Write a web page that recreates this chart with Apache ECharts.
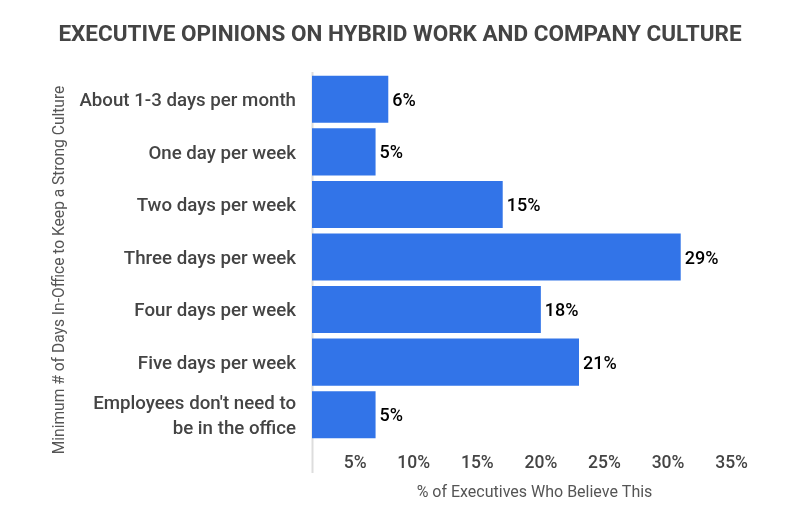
<!DOCTYPE html>
<html>
<head>
<meta charset="utf-8">
<script src="https://cdn.jsdelivr.net/npm/echarts@6/dist/echarts.min.js"></script>
<style>
html,body{margin:0;padding:0;background:#fff;}
#chart{width:800px;height:510px;}
</style>
</head>
<body>
<div id="chart"></div>
<script>
const categories = [
  "About 1-3 days per month",
  "One day per week",
  "Two days per week",
  "Three days per week",
  "Four days per week",
  "Five days per week",
  "Employees don't need to\nbe in the office"
];
const values = [6, 5, 15, 29, 18, 21, 5];
const xTicks = [0, 5, 10, 15, 20, 25, 30, 35];

const chart = echarts.init(document.getElementById('chart'));
const gridLeft = 312, gridTop = 73, gridHeight = 368, gridWidth = 445;
chart.setOption({
  backgroundColor: '#fff',
  animation: false,
  title: {
    text: 'EXECUTIVE OPINIONS ON HYBRID WORK AND COMPANY CULTURE',
    left: 'center',
    top: 19,
    textStyle: {fontFamily: 'Roboto', fontWeight: 'bold', fontSize: 22.5, color: '#444'}
  },
  grid: {left: gridLeft, top: gridTop, width: gridWidth, height: gridHeight},
  xAxis: {
    type: 'value',
    min: xTicks[0],
    max: xTicks[xTicks.length - 1],
    interval: 5,
    name: '% of Executives Who Believe This',
    nameLocation: 'middle',
    nameGap: 44,
    nameTextStyle: {fontFamily: 'Roboto', fontSize: 16, color: '#555'},
    axisLine: {show: false},
    axisTick: {show: false},
    splitLine: {show: false},
    axisLabel: {
      showMinLabel: false,
      formatter: v => v + '%',
      align: 'right',
      padding: [0, 9, 0, 0],
      margin: 14,
      fontFamily: 'Roboto', fontWeight: 500, fontSize: 17.5, color: '#444'
    }
  },
  yAxis: {
    type: 'category',
    data: categories,
    inverse: true,
    name: 'Minimum # of Days In-Office to Keep a Strong Culture',
    nameLocation: 'middle',
    nameGap: 232,
    nameRotate: 90,
    nameTextStyle: {fontFamily: 'Roboto', fontSize: 15.6, color: '#555', padding: [0, 26, 0, 0]},
    axisLine: {show: false},
    axisTick: {show: false},
    axisLabel: {
      margin: 16,
      fontFamily: 'Roboto', fontWeight: 500, fontSize: 18.7, color: '#444',
      lineHeight: 25, align: 'right',
      formatter: v => '{c|' + v.split('\n').join('}\n{c|') + '}',
      rich: {c: {fontFamily: 'Roboto', fontWeight: 500, fontSize: 18.7, color: '#444', lineHeight: 25, padding: [4, 0, 0, 0]}}
    }
  },
  graphic: [{
    type: 'line',
    shape: {x1: gridLeft + 0.5, y1: gridTop - 1, x2: gridLeft + 0.5, y2: 473},
    style: {stroke: '#ddd', lineWidth: 2}
  }],
  series: [{
    type: 'bar',
    data: values,
    barCategoryGap: '10.5%',
    itemStyle: {color: '#3274e8'},
    label: {
      show: true,
      position: 'right',
      distance: 4,
      offset: [0, 2],
      formatter: p => p.value + '%',
      fontFamily: 'Roboto', fontWeight: 500, fontSize: 18, color: '#000'
    }
  }]
});
</script>
</body>
</html>
